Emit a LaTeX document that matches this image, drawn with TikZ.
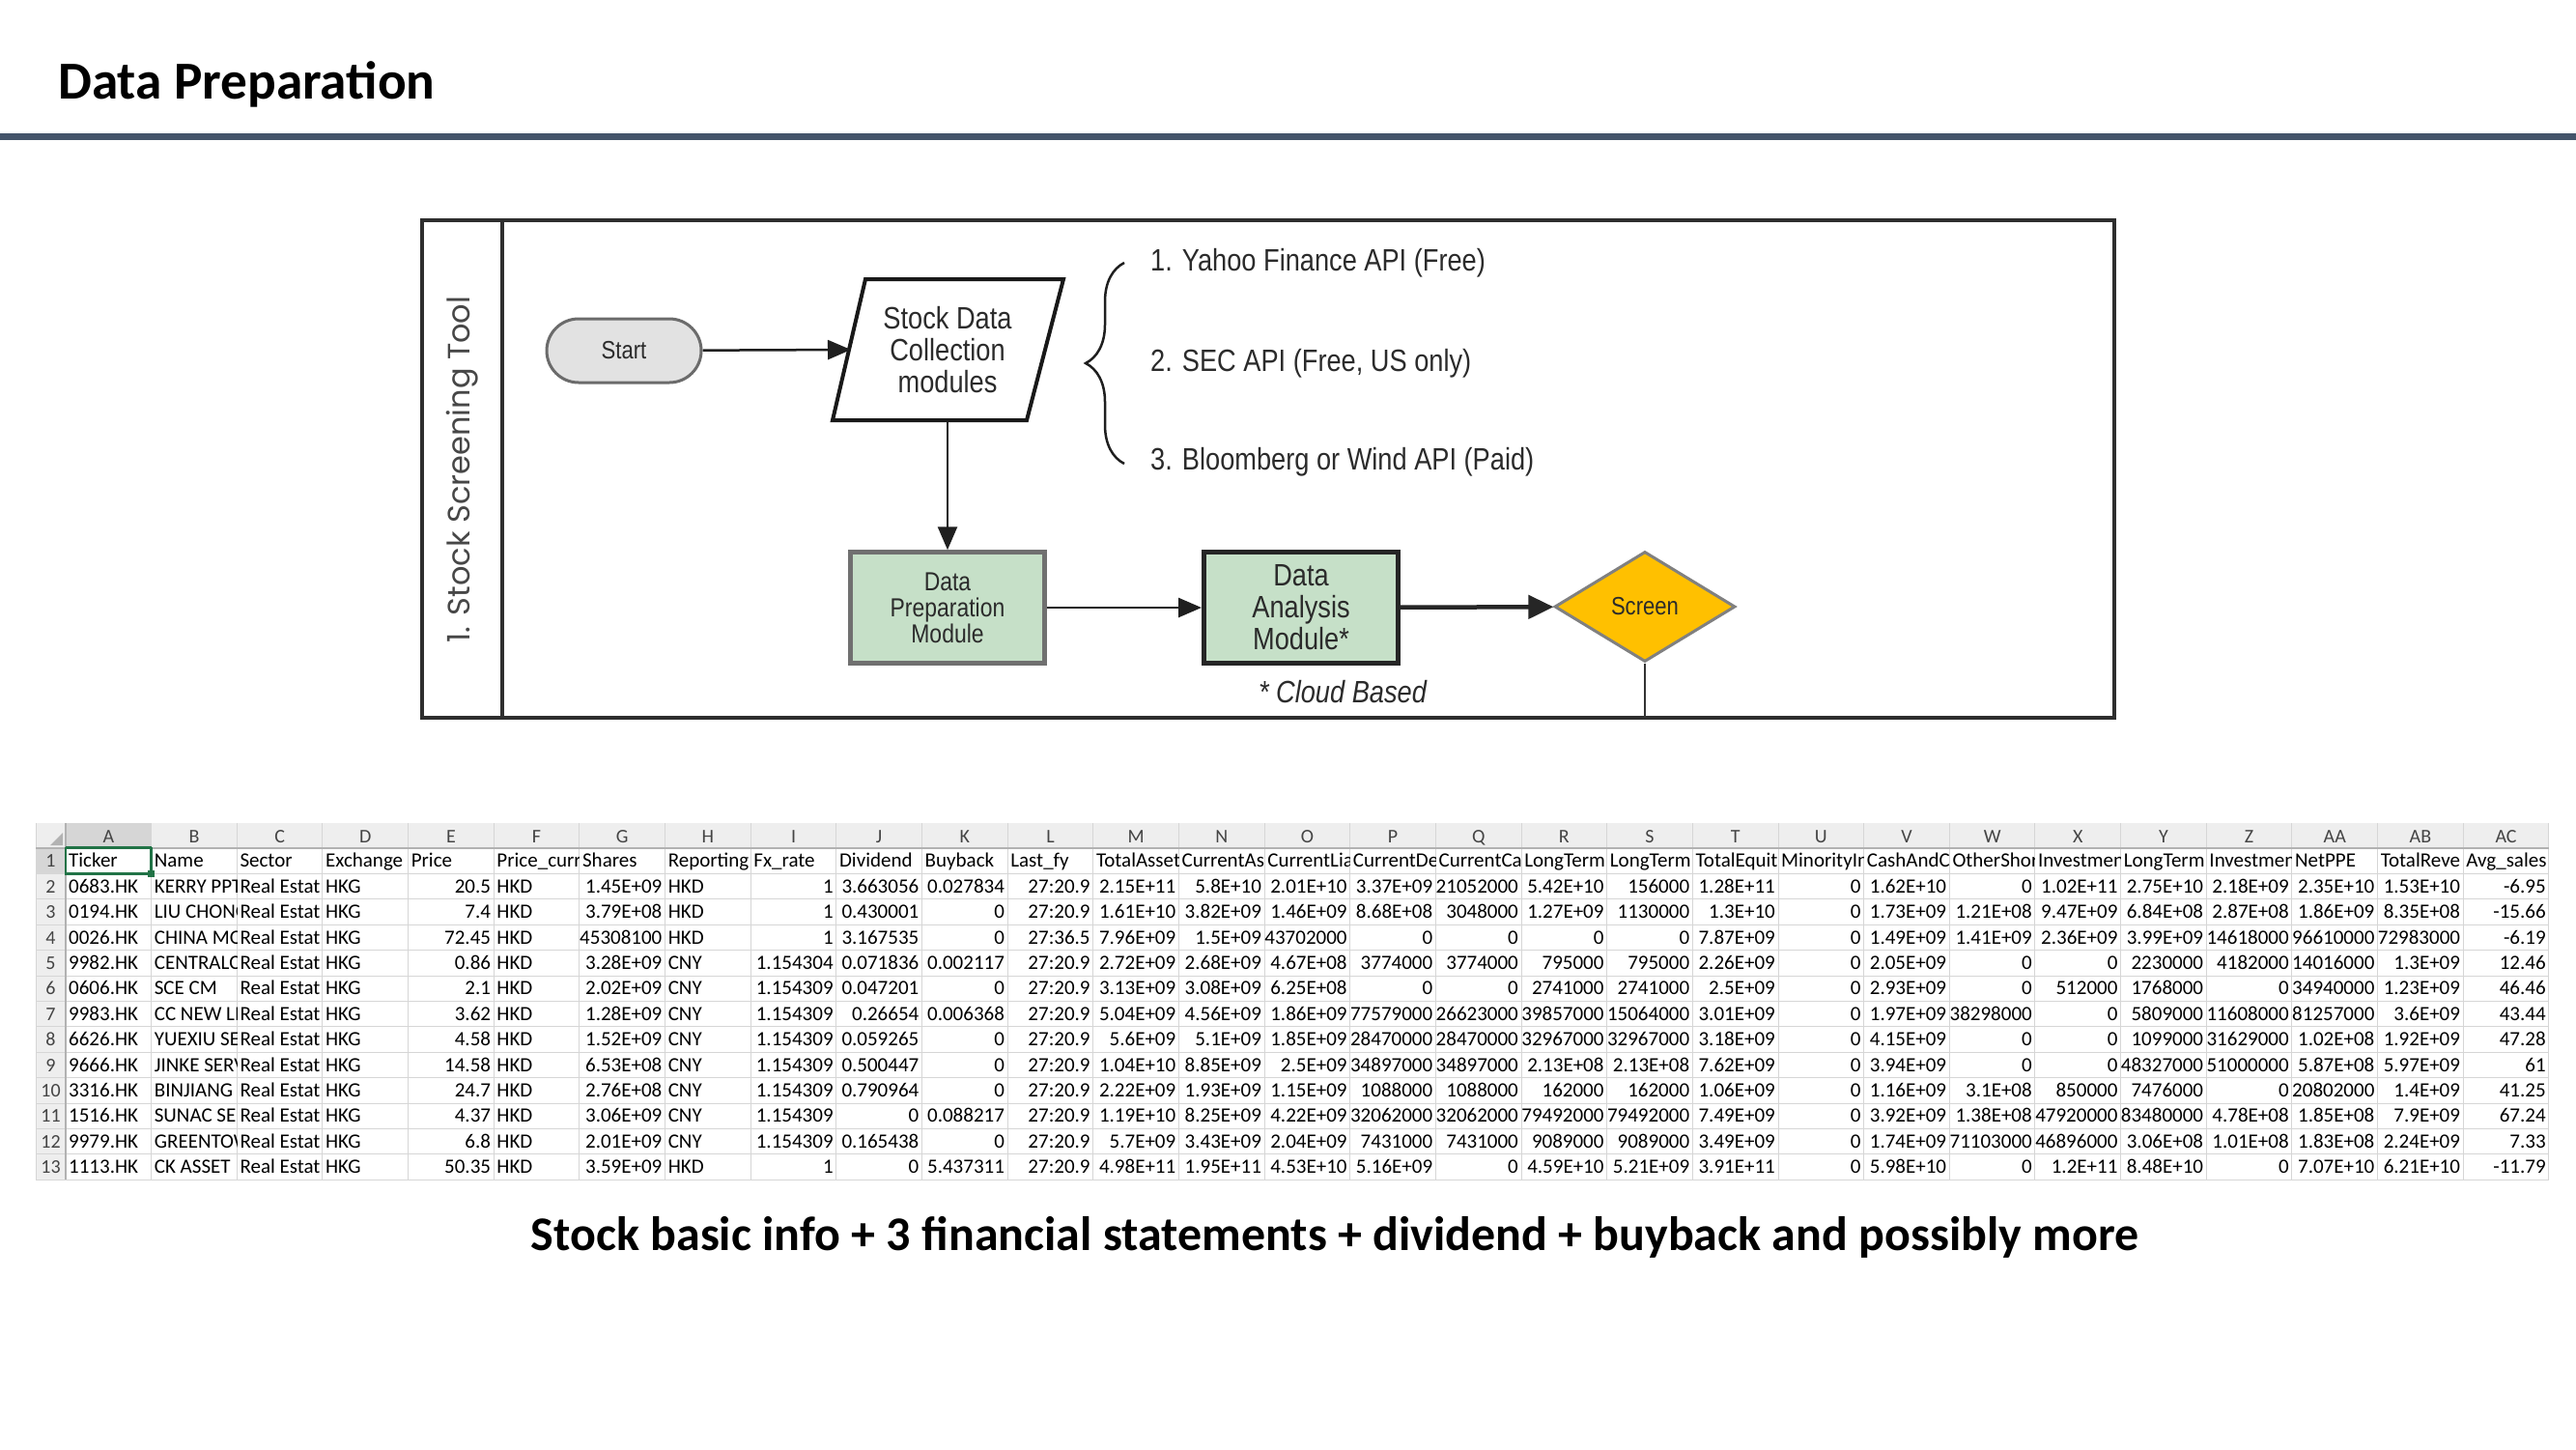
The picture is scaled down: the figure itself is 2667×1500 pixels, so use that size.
\documentclass[tikz,border=0pt]{standalone}
\usepackage{fontspec}
\setmainfont{Carlito}
\newfontfamily\flowfont[FakeStretch=0.85]{Liberation Sans}
\newfontfamily\gothic{Poppins}
\usetikzlibrary{arrows.meta,shapes.geometric,decorations.pathreplacing}

\definecolor{rulecol}{HTML}{44546A}
\definecolor{framecol}{HTML}{2E2E2E}
\definecolor{modgreen}{HTML}{C6E0C8}
\definecolor{gold}{HTML}{FFC000}
\definecolor{startgray}{HTML}{E2E2E2}
\definecolor{gridcol}{HTML}{D6D6D6}
\definecolor{headbg}{HTML}{EEEEEE}
\definecolor{headsel}{HTML}{D6D6D6}
\definecolor{headtxt}{HTML}{444444}
\definecolor{selgreen}{HTML}{217346}
\definecolor{inktxt}{HTML}{2B2B2B}

\newcommand\colw{88.65}
\newcommand\rowh{26.4}

% one spreadsheet row: #1 = row number, #2 = the 29 cell values
\newcommand\sheetrow[2]{%
  \foreach \val [count=\cn] in {#2} {%
    \pgfmathsetmacro\xl{68+(\cn-1)*\colw}%
    \pgfmathsetmacro\yt{878+(#1-1)*\rowh}%
    \pgfmathtruncatemacro\al{((\cn<5)||(\cn==6)||(\cn==8)||(#1==1))?1:0}%
    \begin{scope}
      \clip (\xl,\yt) rectangle ++(\colw,\rowh);
      \ifnum\al=1
        \node[cell,anchor=base west] at (\xl+3,\yt+19.8) {\val};
      \else
        \node[cell,anchor=base east] at (\xl+\colw-3,\yt+19.8) {\val};
      \fi
    \end{scope}
  }}

\tikzset{
  cell/.style={inner sep=0pt,font=\fontsize{21}{23}\selectfont,text=black},
  headlbl/.style={inner sep=0pt,anchor=base,font=\fontsize{20}{22}\selectfont,text=headtxt},
  gridline/.style={draw=gridcol,line width=1pt},
  frame/.style={draw=framecol,line width=4pt},
  flowtxt/.style={font=\flowfont\fontsize{32}{33}\selectfont,text=inktxt,align=center,inner sep=0pt},
  startnode/.style={draw=black!58,fill=startgray,line width=3pt,rounded corners=33pt,
    minimum width=160pt,minimum height=66pt,font=\flowfont\fontsize{26}{28}\selectfont,text=inktxt},
  modbox/.style={fill=modgreen,minimum width=201pt,minimum height=115pt,align=center,text=inktxt},
  screennode/.style={diamond,draw=black!50,fill=gold,line width=3pt,minimum width=187pt,
    minimum height=114pt,inner sep=0pt,aspect=1.64,font=\flowfont\fontsize{26}{28}\selectfont,text=inktxt},
  arr/.style={draw=black!88,line width=2.5pt,-{Triangle[length=24pt,width=20pt]}},
  arrthick/.style={draw=black!85,line width=4.5pt,-{Triangle[length=26pt,width=24pt]}},
}

\begin{document}
\begin{tikzpicture}[x=1pt,y=-1pt]
\useasboundingbox (0,0) rectangle (2667,1500);
\fill[white] (0,0) rectangle (2667,1500);

% heading and rule
\node[anchor=base west,inner sep=0pt,font=\bfseries\fontsize{55.3}{60}\selectfont] (title) at (60,102) {Data Preparation};
\fill[rulecol] (0,138) rectangle (2667,145);

% ---------- flowchart ----------
\draw[frame] (437,228) rectangle (2189,743);
\draw[frame] (520,228) -- (520,743);
\node[rotate=90,inner sep=0pt,font=\gothic\fontsize{32}{34}\selectfont,text=black!72] (lane) at (479,486) {1. Stock Screening Tool};

\node[startnode] (start) at (646,363) {Start};

\draw[draw=black!90,line width=4pt,line join=miter] (896,289) -- (1101,289) -- (1063,435) -- (862,435) -- cycle;
\node[flowtxt] (collect) at (981,362) {Stock Data\\Collection\\modules};
\coordinate (collectin) at (881,362);
\coordinate (collectout) at (981,435);

\draw[draw=black!88,line width=2.5pt,decorate,decoration={brace,amplitude=40pt}] (1164,480) -- (1164,272);
\node[flowtxt,anchor=west] (src1) at (1191,272) {1. Yahoo Finance API (Free)};
\node[flowtxt,anchor=west] (src2) at (1191,376) {2. SEC API (Free, US only)};
\node[flowtxt,anchor=west] (src3) at (1191,478) {3. Bloomberg or Wind API (Paid)};

\node[modbox,draw=black!56,line width=4.5pt,font=\flowfont\fontsize{27}{27}\selectfont] (prep) at (981,629) {Data\\Preparation\\Module};
\node[modbox,draw=black!85,line width=5pt,font=\flowfont\fontsize{32}{33}\selectfont] (analysis) at (1347,629) {Data\\Analysis\\Module*};
\node[screennode] (screen) at (1703,628) {Screen};
\node[flowtxt,font=\flowfont\itshape\fontsize{32}{33}\selectfont] (cloud) at (1390,716) {* Cloud Based};
\coordinate (screenend) at (1703,743);

\draw[arr] (start) -- (collectin);
\draw[arr] (collectout) -- (prep);
\draw[arr] (prep) -- (analysis);
\draw[arrthick] (analysis) -- (screen);
\draw[draw=black!80,line width=2pt] (screen) -- (screenend);

% ---------- spreadsheet ----------
\fill[headbg] (37,852) rectangle (2638.85,878);
\fill[headbg] (37,878) rectangle (68,1221.2);
\fill[headsel] (68,852) rectangle (156.65,878);
\fill[headsel] (37,878) rectangle (68,904.4);
\fill[black!30] (52,875) -- (65,875) -- (65,862) -- cycle;

\foreach \i in {0,...,29} \draw[gridline] (68+\i*\colw,852) -- (68+\i*\colw,1221.2);
\draw[gridline] (37,852) -- (37,1221.2);
\foreach \j in {1,...,13} \draw[gridline] (37,878+\j*\rowh) -- (2638.85,878+\j*\rowh);
\draw[draw=black!30,line width=1.5pt] (37,878) -- (2638.85,878);
\draw[draw=black!30,line width=1.5pt] (68,852) -- (68,1221.2);
\draw[selgreen,line width=2pt] (68,877) -- (156.65,877);

\foreach \L [count=\i] in {A,B,C,D,E,F,G,H,I,J,K,L,M,N,O,P,Q,R,S,T,U,V,W,X,Y,Z,AA,AB,AC}
  \node[headlbl] (col\i) at (68+\i*\colw-0.5*\colw,872) {\L};
\foreach \r in {1,...,13}
  \node[headlbl] (row\r) at (52.5,878+\r*\rowh-\rowh+19.8) {\r};

\sheetrow{1}{Ticker,Name,Sector,Exchange,Price,Price\_curr,Shares,Reporting,Fx\_rate,Dividend,Buyback,Last\_fy,TotalAsset,CurrentAs,CurrentLia,CurrentDe,CurrentCa,LongTerm,LongTerm,TotalEquit,MinorityIn,CashAndC,OtherShor,Investmen,LongTerm,Investmen,NetPPE,TotalReve,Avg\_sales}
\sheetrow{2}{0683.HK,KERRY PPT,Real Estat,HKG,20.5,HKD,1.45E+09,HKD,1,3.663056,0.027834,27:20.9,2.15E+11,5.8E+10,2.01E+10,3.37E+09,21052000,5.42E+10,156000,1.28E+11,0,1.62E+10,0,1.02E+11,2.75E+10,2.18E+09,2.35E+10,1.53E+10,-6.95}
\sheetrow{3}{0194.HK,LIU CHONG,Real Estat,HKG,7.4,HKD,3.79E+08,HKD,1,0.430001,0,27:20.9,1.61E+10,3.82E+09,1.46E+09,8.68E+08,3048000,1.27E+09,1130000,1.3E+10,0,1.73E+09,1.21E+08,9.47E+09,6.84E+08,2.87E+08,1.86E+09,8.35E+08,-15.66}
\sheetrow{4}{0026.HK,CHINA MO,Real Estat,HKG,72.45,HKD,45308100,HKD,1,3.167535,0,27:36.5,7.96E+09,1.5E+09,43702000,0,0,0,0,7.87E+09,0,1.49E+09,1.41E+09,2.36E+09,3.99E+09,14618000,96610000,72983000,-6.19}
\sheetrow{5}{9982.HK,CENTRALCO,Real Estat,HKG,0.86,HKD,3.28E+09,CNY,1.154304,0.071836,0.002117,27:20.9,2.72E+09,2.68E+09,4.67E+08,3774000,3774000,795000,795000,2.26E+09,0,2.05E+09,0,0,2230000,4182000,14016000,1.3E+09,12.46}
\sheetrow{6}{0606.HK,SCE CM,Real Estat,HKG,2.1,HKD,2.02E+09,CNY,1.154309,0.047201,0,27:20.9,3.13E+09,3.08E+09,6.25E+08,0,0,2741000,2741000,2.5E+09,0,2.93E+09,0,512000,1768000,0,34940000,1.23E+09,46.46}
\sheetrow{7}{9983.HK,CC NEW LI,Real Estat,HKG,3.62,HKD,1.28E+09,CNY,1.154309,0.26654,0.006368,27:20.9,5.04E+09,4.56E+09,1.86E+09,77579000,26623000,39857000,15064000,3.01E+09,0,1.97E+09,38298000,0,5809000,11608000,81257000,3.6E+09,43.44}
\sheetrow{8}{6626.HK,YUEXIU SE,Real Estat,HKG,4.58,HKD,1.52E+09,CNY,1.154309,0.059265,0,27:20.9,5.6E+09,5.1E+09,1.85E+09,28470000,28470000,32967000,32967000,3.18E+09,0,4.15E+09,0,0,1099000,31629000,1.02E+08,1.92E+09,47.28}
\sheetrow{9}{9666.HK,JINKE SERV,Real Estat,HKG,14.58,HKD,6.53E+08,CNY,1.154309,0.500447,0,27:20.9,1.04E+10,8.85E+09,2.5E+09,34897000,34897000,2.13E+08,2.13E+08,7.62E+09,0,3.94E+09,0,0,48327000,51000000,5.87E+08,5.97E+09,61}
\sheetrow{10}{3316.HK,BINJIANG,Real Estat,HKG,24.7,HKD,2.76E+08,CNY,1.154309,0.790964,0,27:20.9,2.22E+09,1.93E+09,1.15E+09,1088000,1088000,162000,162000,1.06E+09,0,1.16E+09,3.1E+08,850000,7476000,0,20802000,1.4E+09,41.25}
\sheetrow{11}{1516.HK,SUNAC SE,Real Estat,HKG,4.37,HKD,3.06E+09,CNY,1.154309,0,0.088217,27:20.9,1.19E+10,8.25E+09,4.22E+09,32062000,32062000,79492000,79492000,7.49E+09,0,3.92E+09,1.38E+08,47920000,83480000,4.78E+08,1.85E+08,7.9E+09,67.24}
\sheetrow{12}{9979.HK,GREENTOW,Real Estat,HKG,6.8,HKD,2.01E+09,CNY,1.154309,0.165438,0,27:20.9,5.7E+09,3.43E+09,2.04E+09,7431000,7431000,9089000,9089000,3.49E+09,0,1.74E+09,71103000,46896000,3.06E+08,1.01E+08,1.83E+08,2.24E+09,7.33}
\sheetrow{13}{1113.HK,CK ASSET,Real Estat,HKG,50.35,HKD,3.59E+09,HKD,1,0,5.437311,27:20.9,4.98E+11,1.95E+11,4.53E+10,5.16E+09,0,4.59E+10,5.21E+09,3.91E+11,0,5.98E+10,0,1.2E+11,8.48E+10,0,7.07E+10,6.21E+10,-11.79}

% active cell
\draw[selgreen,line width=2.5pt] (68,878) rectangle (156.65,904.4);
\fill[selgreen] (153.4,901.2) rectangle (159.9,907.7);

% caption
\node[anchor=base,inner sep=0pt,font=\bfseries\fontsize{50}{54}\selectfont] (caption) at (1382,1294) {Stock basic info + 3 financial statements + dividend + buyback and possibly more};
\end{tikzpicture}
\end{document}
